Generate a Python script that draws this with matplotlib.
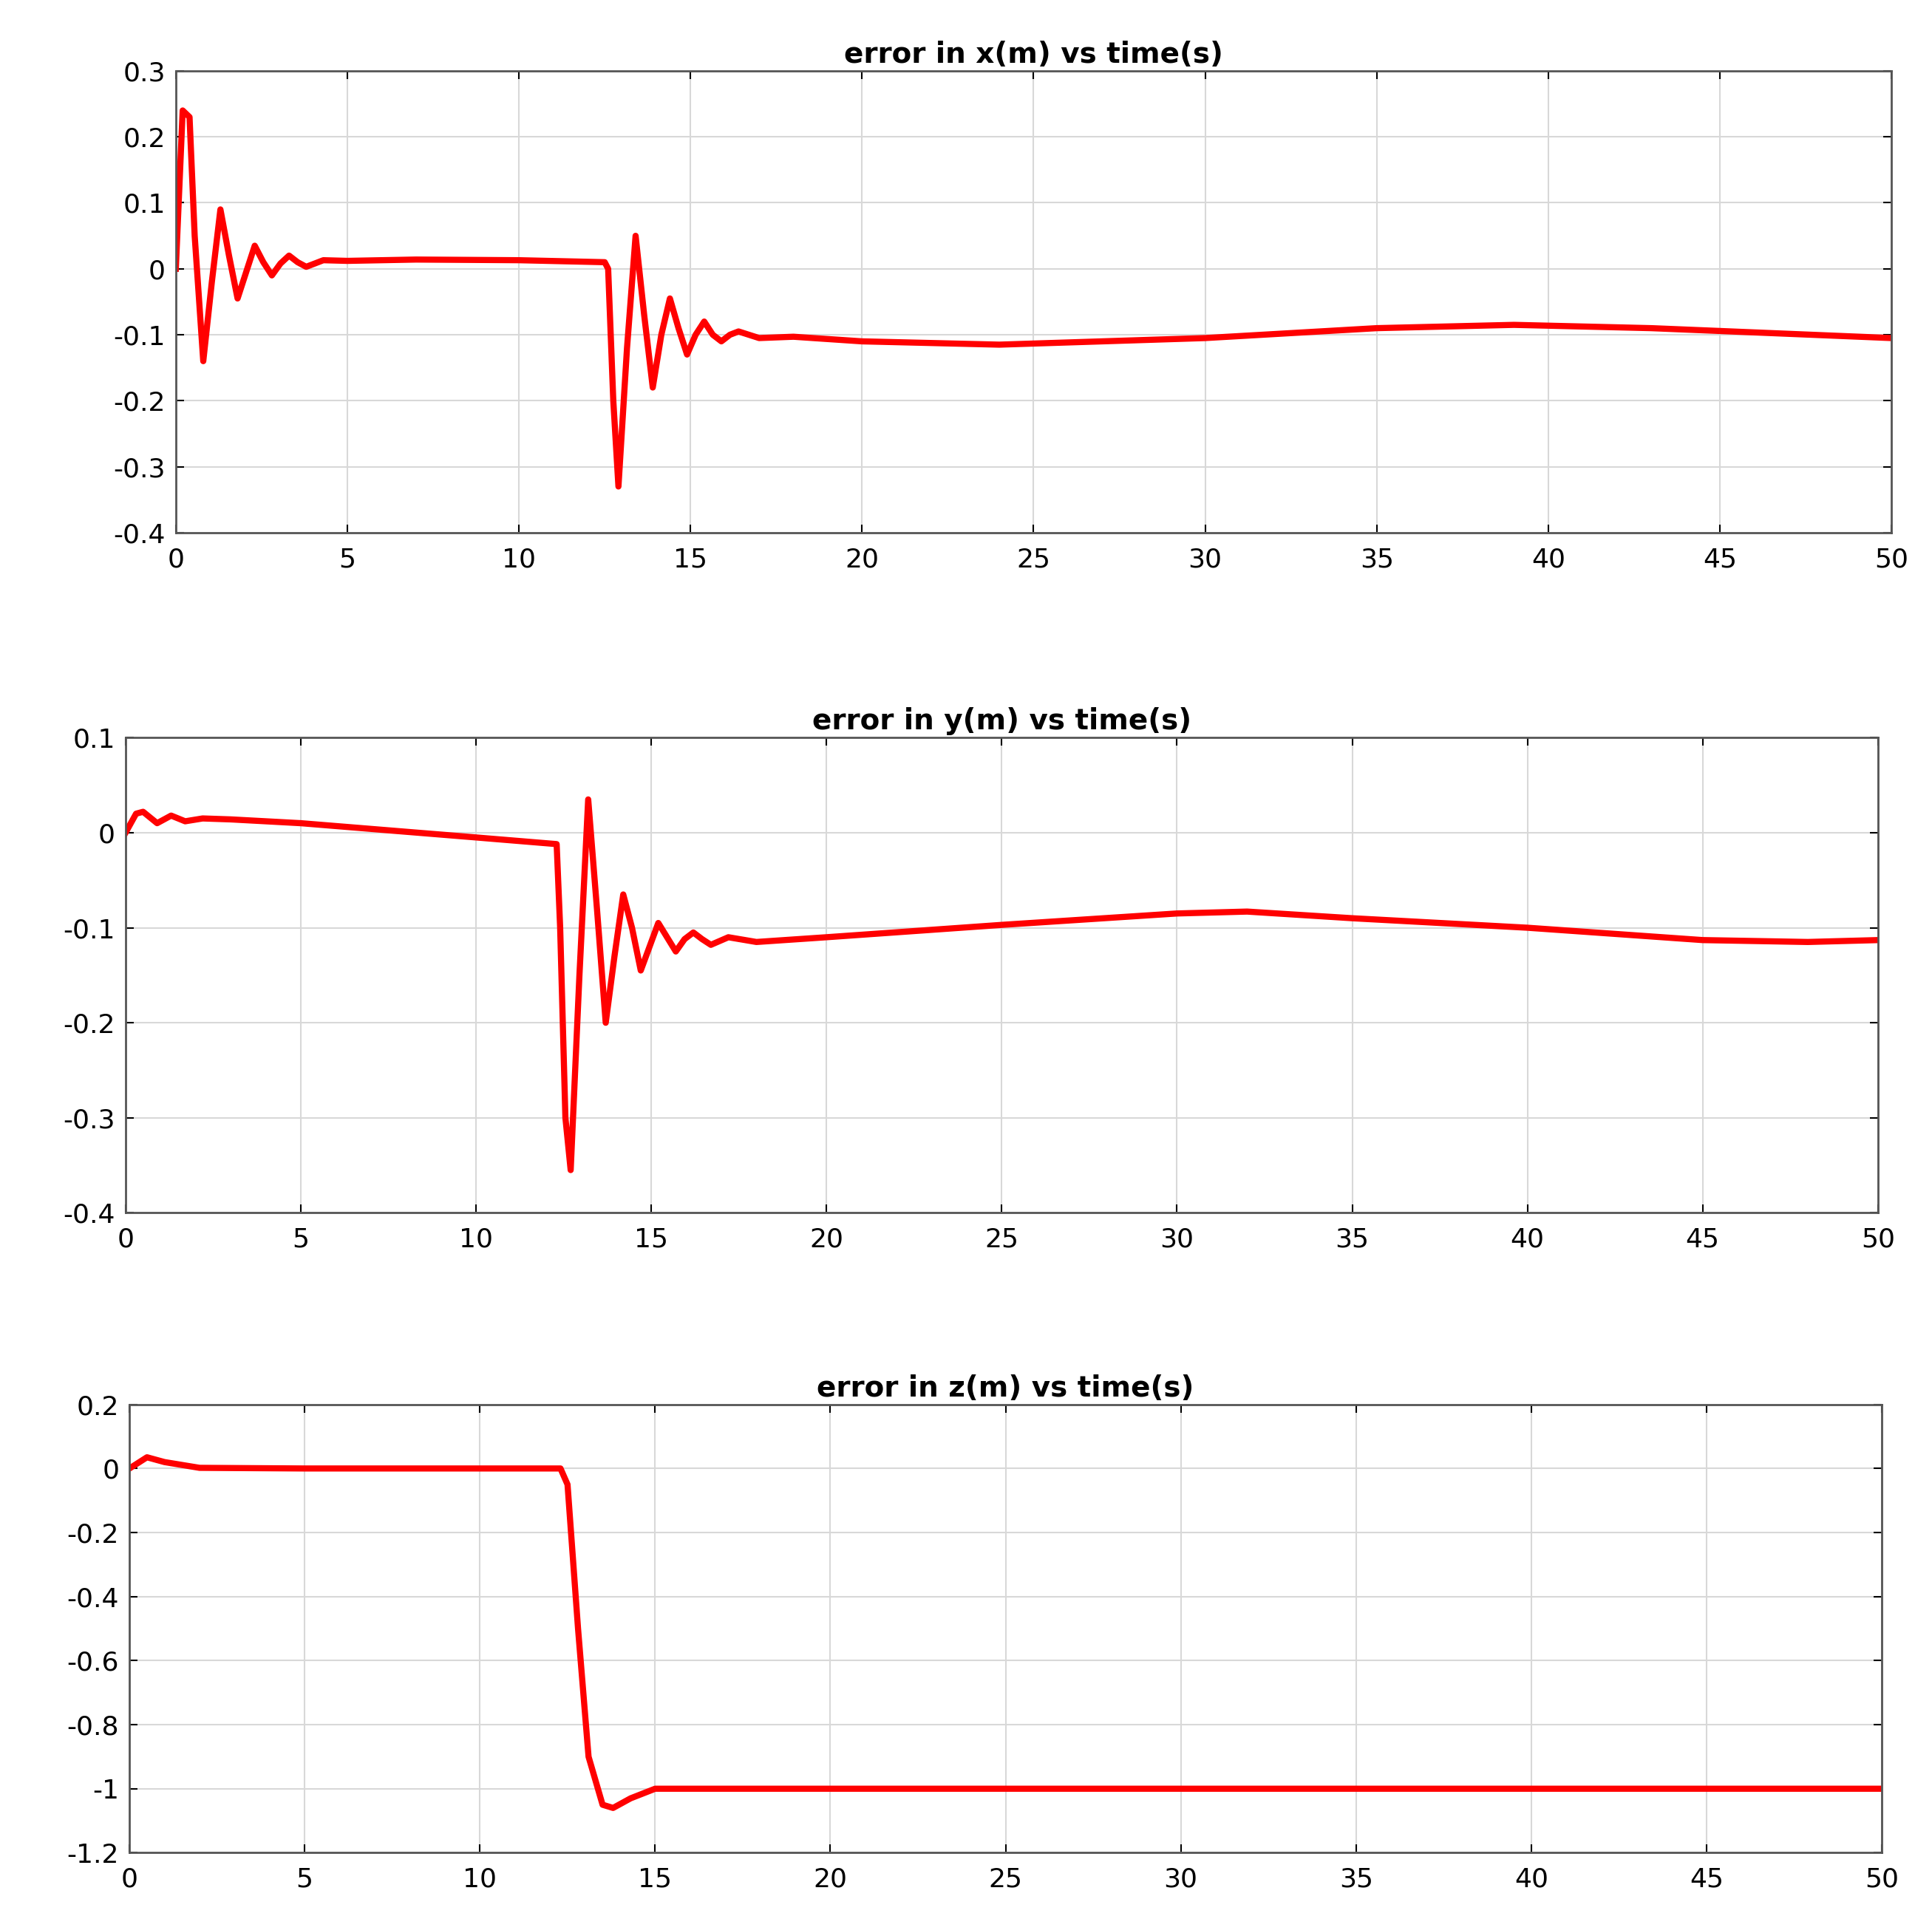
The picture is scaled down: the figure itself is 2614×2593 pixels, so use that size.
import matplotlib
matplotlib.use("Agg")
import matplotlib.pyplot as plt

t_x = [0, 0.2, 0.4, 0.55, 0.8, 1.05, 1.3, 1.55, 1.8, 2.05, 2.3, 2.55, 2.8, 3.05, 3.3, 3.55, 3.8, 4.05, 4.3, 5, 7, 10, 12.5, 12.6, 12.75, 12.9, 13.15, 13.4, 13.65, 13.9, 14.15, 14.4, 14.65, 14.9, 15.15, 15.4, 15.65, 15.9, 16.15, 16.4, 17, 18, 20, 24, 30, 35, 39, 43, 50]
e_x = [0, 0.24, 0.23, 0.05, -0.14, -0.02, 0.09, 0.02, -0.045, -0.005, 0.035, 0.01, -0.01, 0.008, 0.02, 0.01, 0.003, 0.008, 0.013, 0.012, 0.014, 0.013, 0.01, 0.0, -0.2, -0.33, -0.12, 0.05, -0.07, -0.18, -0.1, -0.045, -0.09, -0.13, -0.1, -0.08, -0.1, -0.11, -0.1, -0.095, -0.105, -0.103, -0.11, -0.115, -0.105, -0.09, -0.085, -0.09, -0.105]

t_y = [0, 0.3, 0.5, 0.7, 0.9, 1.1, 1.3, 1.5, 1.7, 2.2, 3, 5, 10, 12.3, 12.4, 12.55, 12.7, 12.95, 13.2, 13.45, 13.7, 13.95, 14.2, 14.45, 14.7, 14.95, 15.2, 15.45, 15.7, 15.95, 16.2, 16.45, 16.7, 17.2, 18, 20, 25, 30, 32, 35, 40, 45, 48, 50]
e_y = [0, 0.02, 0.022, 0.016, 0.01, 0.014, 0.018, 0.015, 0.012, 0.015, 0.014, 0.01, -0.005, -0.012, -0.1, -0.3, -0.355, -0.15, 0.035, -0.08, -0.2, -0.13, -0.065, -0.1, -0.145, -0.12, -0.095, -0.11, -0.125, -0.112, -0.105, -0.112, -0.118, -0.11, -0.115, -0.11, -0.097, -0.085, -0.083, -0.09, -0.1, -0.113, -0.115, -0.113]

t_z = [0, 0.5, 1, 2, 5, 12.3, 12.5, 12.8, 13.1, 13.5, 13.8, 14.3, 15, 20, 50]
e_z = [0, 0.035, 0.02, 0.002, 0, 0, -0.05, -0.5, -0.9, -1.05, -1.06, -1.03, -1.0, -1.0, -1.0]

xticks = [0, 5, 10, 15, 20, 25, 30, 35, 40, 45, 50]
yt1 = [-0.4, -0.3, -0.2, -0.1, 0, 0.1, 0.2, 0.3]
yt2 = [-0.4, -0.3, -0.2, -0.1, 0, 0.1]
yt3 = [-1.2, -1, -0.8, -0.6, -0.4, -0.2, 0, 0.2]

fig = plt.figure(figsize=(26.14, 25.93), dpi=100)
specs = [
    ([0.091, 0.722, 0.888, 0.241], t_x, e_x, yt1, "error in x(m) vs time(s)"),
    ([0.065, 0.367, 0.907, 0.248], t_y, e_y, yt2, "error in y(m) vs time(s)"),
    ([0.067, 0.033, 0.907, 0.234], t_z, e_z, yt3, "error in z(m) vs time(s)"),
]
for rect, t, e, yt, title in specs:
    ax = fig.add_axes(rect)
    ax.plot(t, e, color="red", lw=6)
    ax.set_xlim(0, 50)
    ax.set_ylim(yt[0], yt[-1])
    ax.set_xticks(xticks)
    ax.set_yticks(yt)
    ax.set_yticklabels([("%g" % v) for v in yt])
    ax.grid(True, color="#d8d8d8", lw=1.5)
    ax.tick_params(labelsize=26, length=8, width=1.5, direction="in", top=True, right=True)
    ax.tick_params(axis="x", pad=14)
    ax.tick_params(axis="y", pad=10)
    for s in ax.spines.values():
        s.set_linewidth(2)
        s.set_color("#555555")
    ax.set_title(title, fontsize=28, fontweight="bold", pad=8)
fig.savefig("out.png", dpi=100, facecolor="white")
